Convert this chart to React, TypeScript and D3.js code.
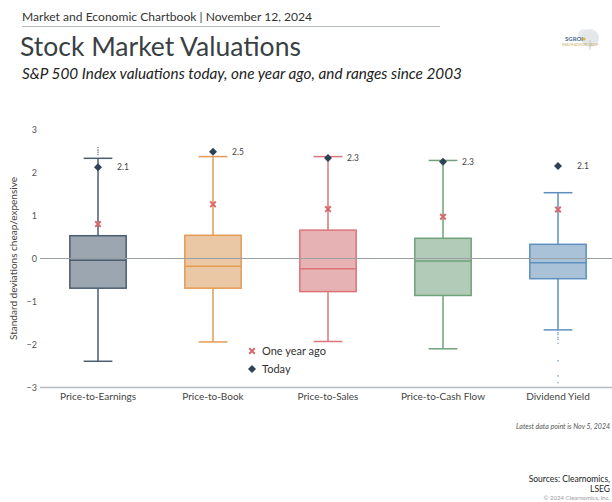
import React from "react";
import * as d3 from "d3";

const categories = ["Price-to-Earnings", "Price-to-Book", "Price-to-Sales", "Price-to-Cash Flow", "Dividend Yield"];
const q1 = [-0.69, -0.69, -0.77, -0.86, -0.47];
const medians = [-0.04, -0.18, -0.24, -0.06, -0.10];
const q3 = [0.53, 0.54, 0.66, 0.47, 0.33];
const whiskerLow = [-2.39, -1.94, -1.93, -2.10, -1.66];
const whiskerHigh = [2.33, 2.37, 2.37, 2.28, 1.53];
const today = [2.12, 2.48, 2.34, 2.25, 2.15];
const todayLabels = ["2.1", "2.5", "2.3", "2.3", "2.1"];
const yearAgo = [0.80, 1.26, 1.15, 0.97, 1.14];
const outliers: number[][] = [
  [2.42, 2.47, 2.52, 2.58],
  [],
  [],
  [],
  [-1.73, -1.77, -1.83, -1.88, -1.97, -2.38, -2.73, -2.89],
];
const yTicks = [-3, -2, -1, 0, 1, 2, 3];

const strokes = ["#4b5d6e", "#e39b54", "#dc7479", "#6fa07a", "#5d8fbf"];
const fills = ["#9ba6b0", "#eac8a5", "#e6b2b4", "#b2cbb8", "#aac2d8"];

const FONT = "Lato, 'Open Sans', sans-serif";

export default function App() {
  const W = 612, H = 502;
  const x = d3.scaleBand<string>().domain(categories).range([40.5, 615.5]).padding(0);
  const y = d3.scaleLinear().domain([-3, 3]).range([387.5, 129.5]);
  const bw = x.bandwidth();
  const boxW = bw * 0.49;
  const capW = bw * 0.25;
  const diamond = "M0,-4L4,0L0,4L-4,0Z";
  const cross = d3.symbol().type(d3.symbolX).size(22)() as string;

  return (
    <div style={{ position: "absolute", left: 0, top: 0 }}>
      <svg width={W} height={H} style={{ display: "block", background: "#fff" }} fontFamily={FONT}>
        {/* header */}
        <text x={22} y={21} fontSize={12.1} fill="#333">Market and Economic Chartbook | November 12, 2024</text>
        <line x1={22} x2={440} y1={26.5} y2={26.5} stroke="#b8bcc4" strokeWidth={1} />
        <text x={20} y={56} fontSize={26.5} fill="#3a3f44">Stock Market Valuations</text>
        <text x={22} y={79} fontSize={15.3} fontStyle="italic" fill="#222">S&amp;P 500 Index valuations today, one year ago, and ranges since 2003</text>

        {/* logo */}
        <g>
          <circle cx={590} cy={38} r={9} fill="#d9dde2" opacity={0.7} />
          <circle cx={584} cy={35} r={6} fill="#e3e6ea" opacity={0.8} />
          <line x1={590} x2={590} y1={40} y2={50} stroke="#c8ccd2" strokeWidth={1} />
          <text x={565} y={41} fontSize={6} fill="#4a6a8a" fontWeight="bold">SGROI</text>
          <circle cx={584} cy={39} r={1.6} fill="#e0b030" />
          <text x={562} y={46} fontSize={2.8} fill="#c9a860">WEALTH ADVISORY GROUP</text>
        </g>

        {/* y axis label */}
        <text transform={`translate(17,${y(0)}) rotate(-90)`} textAnchor="middle" fontSize={10} fill="#444">Standard deviations cheap/expensive</text>

        {/* y ticks */}
        {yTicks.map((t) => (
          <text key={t} x={37} y={y(t)} dy="0.35em" textAnchor="end" fontSize={9} fill="#555">
            {t < 0 ? "\u2212" + Math.abs(t) : t}
          </text>
        ))}

        {/* boxes */}
        {categories.map((c, i) => {
          const cx = (x(c) as number) + bw / 2;
          return (
            <g key={c}>
              <line x1={cx} x2={cx} y1={y(whiskerHigh[i])} y2={y(q3[i])} stroke={strokes[i]} strokeWidth={1.5} />
              <line x1={cx} x2={cx} y1={y(q1[i])} y2={y(whiskerLow[i])} stroke={strokes[i]} strokeWidth={1.5} />
              <line x1={cx - capW / 2} x2={cx + capW / 2} y1={y(whiskerHigh[i])} y2={y(whiskerHigh[i])} stroke={strokes[i]} strokeWidth={1.5} />
              <line x1={cx - capW / 2} x2={cx + capW / 2} y1={y(whiskerLow[i])} y2={y(whiskerLow[i])} stroke={strokes[i]} strokeWidth={1.5} />
              <rect x={cx - boxW / 2} y={y(q3[i])} width={boxW} height={y(q1[i]) - y(q3[i])} fill={fills[i]} stroke={strokes[i]} strokeWidth={1.5} />
              <line x1={cx - boxW / 2} x2={cx + boxW / 2} y1={y(medians[i])} y2={y(medians[i])} stroke={strokes[i]} strokeWidth={1.5} />
              {outliers[i].map((o, k) => (
                <circle key={k} cx={cx} cy={y(o)} r={0.8} fill={strokes[i]} opacity={0.8} />
              ))}
            </g>
          );
        })}

        {/* zero line */}
        <line x1={40} x2={612} y1={y(0)} y2={y(0)} stroke="#9a9fa3" strokeWidth={1.2} />

        {/* markers */}
        {categories.map((c, i) => {
          const cx = (x(c) as number) + bw / 2;
          return (
            <g key={c + "m"}>
              <path d={cross} transform={`translate(${cx},${y(yearAgo[i])})`} stroke="#d9686c" strokeWidth={2} fill="#d9686c" />
              <path d={diamond} transform={`translate(${cx},${y(today[i])})`} fill="#2e4256" />
              <text x={cx + 19} y={y(today[i])} dy="0.35em" fontSize={8.5} fill="#444">{todayLabels[i]}</text>
            </g>
          );
        })}

        {/* x axis */}
        <line x1={40} x2={612} y1={y(-3)} y2={y(-3)} stroke="#b5b9bd" strokeWidth={1.5} />
        {categories.map((c) => (
          <text key={c} x={(x(c) as number) + bw / 2} y={400} textAnchor="middle" fontSize={10} fill="#444">{c}</text>
        ))}

        {/* legend */}
        <path d={cross} transform="translate(252,351)" stroke="#d9686c" strokeWidth={2} fill="#d9686c" />
        <text x={262} y={351} dy="0.35em" fontSize={11} fill="#333">One year ago</text>
        <path d={diamond} transform="translate(252,369)" fill="#2e4256" />
        <text x={262} y={369} dy="0.35em" fontSize={11} fill="#333">Today</text>

        {/* footnotes */}
        <text x={610} y={429} textAnchor="end" fontSize={7} fontStyle="italic" fill="#555">Latest data point is Nov 5, 2024</text>
        <text x={610} y={482} textAnchor="end" fontSize={8.5} fill="#222">Sources: Clearnomics,</text>
        <text x={610} y={492} textAnchor="end" fontSize={8.5} fill="#222">LSEG</text>
        <text x={610} y={500} textAnchor="end" fontSize={6} fill="#999">© 2024 Clearnomics, Inc.</text>
      </svg>
    </div>
  );
}
